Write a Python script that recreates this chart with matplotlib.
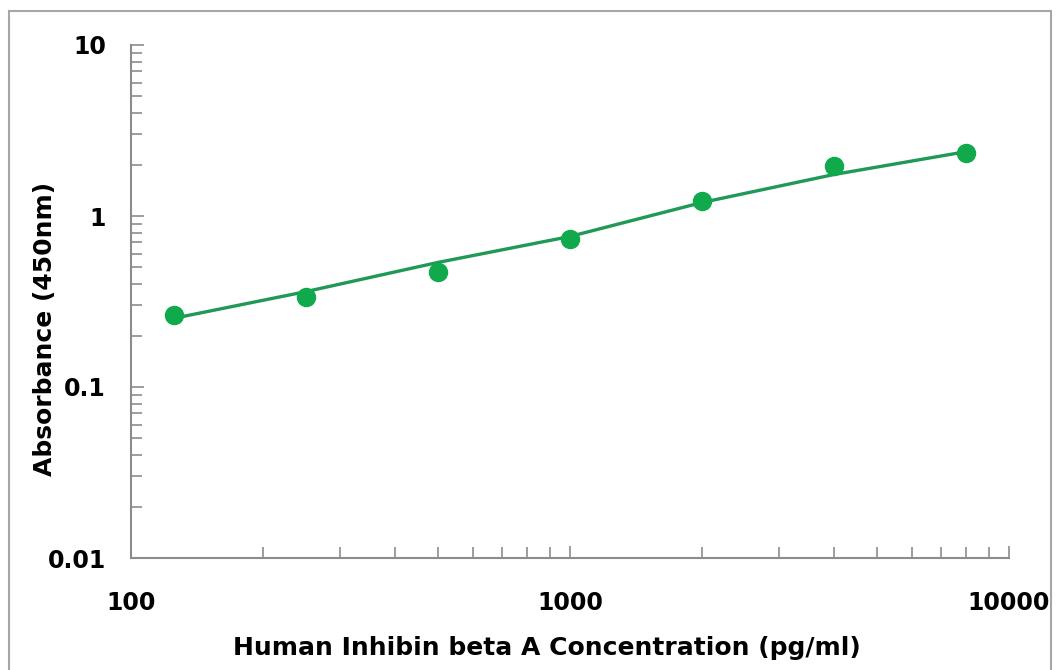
import numpy as np
import matplotlib.pyplot as plt
from matplotlib.patches import Rectangle
from matplotlib.ticker import LogLocator, NullFormatter, FixedLocator, FixedFormatter

# standard curve data
conc = [125, 250, 500, 1000, 2000, 4000, 8000]  # pg/ml
od = [0.265, 0.338, 0.473, 0.738, 1.23, 1.95, 2.35]
od_fit = [0.252, 0.361, 0.535, 0.759, 1.20, 1.75, 2.38]

x_ticks = [100, 1000, 10000]
x_ticklabels = ["100", "1000", "10000"]
y_ticks = [0.01, 0.1, 1, 10]
y_ticklabels = ["0.01", "0.1", "1", "10"]

GREEN = "#10a94c"
LINE_GREEN = "#1f9955"
AXIS_GRAY = "#8c8c8c"

plt.rcParams["font.family"] = ["DejaVu Sans"]

fig = plt.figure(figsize=(10.59, 6.70), dpi=100)
fig.patches.append(
    Rectangle((9 / 1059, -0.01), 1042 / 1059, 1 - 11 / 670 + 0.01,
              transform=fig.transFigure, fill=False, edgecolor="#a6a6a6", linewidth=1.5)
)
ax = fig.add_axes([131 / 1059, 1 - 558 / 670, (1009 - 131) / 1059, (558 - 45) / 670])

ax.plot(conc, od_fit, color=LINE_GREEN, linewidth=2.4, zorder=2)
ax.plot(conc, od, "o", color=GREEN, markersize=13, zorder=3)

ax.set_xscale("log")
ax.set_yscale("log")
ax.set_xlim(100, 10000)
ax.set_ylim(0.01, 10)

ax.xaxis.set_major_locator(FixedLocator(x_ticks))
ax.xaxis.set_major_formatter(FixedFormatter(x_ticklabels))
ax.yaxis.set_major_locator(FixedLocator(y_ticks))
ax.yaxis.set_major_formatter(FixedFormatter(y_ticklabels))
ax.xaxis.set_minor_locator(LogLocator(base=10, subs=np.arange(2, 10)))
ax.yaxis.set_minor_locator(LogLocator(base=10, subs=np.arange(2, 10)))
ax.xaxis.set_minor_formatter(NullFormatter())
ax.yaxis.set_minor_formatter(NullFormatter())

for s in ["top", "right"]:
    ax.spines[s].set_visible(False)
for s in ["left", "bottom"]:
    ax.spines[s].set_color(AXIS_GRAY)
    ax.spines[s].set_linewidth(1.5)

ax.tick_params(which="both", direction="in", color=AXIS_GRAY, width=1.2)
ax.tick_params(which="major", length=9)
ax.tick_params(which="minor", length=8)
ax.tick_params(axis="x", which="major", pad=24, labelsize=17)
ax.tick_params(axis="y", which="major", pad=18, labelsize=17)
for lab in ax.get_xticklabels() + ax.get_yticklabels():
    lab.set_fontweight("bold")

ax.set_xlabel("Human Inhibin beta A Concentration (pg/ml)", fontsize=18,
              fontweight="bold")
ax.set_ylabel("Absorbance (450nm)", fontsize=18, fontweight="bold")
ax.xaxis.set_label_coords((547 - 131) / 878, (558 - 648) / 513, transform=ax.transAxes)
ax.yaxis.set_label_coords((45 - 131) / 878, (558 - 329) / 513, transform=ax.transAxes)
ax.xaxis.label.set_va("center")
ax.yaxis.label.set_va("center")

fig.savefig("out.png", dpi=100)
